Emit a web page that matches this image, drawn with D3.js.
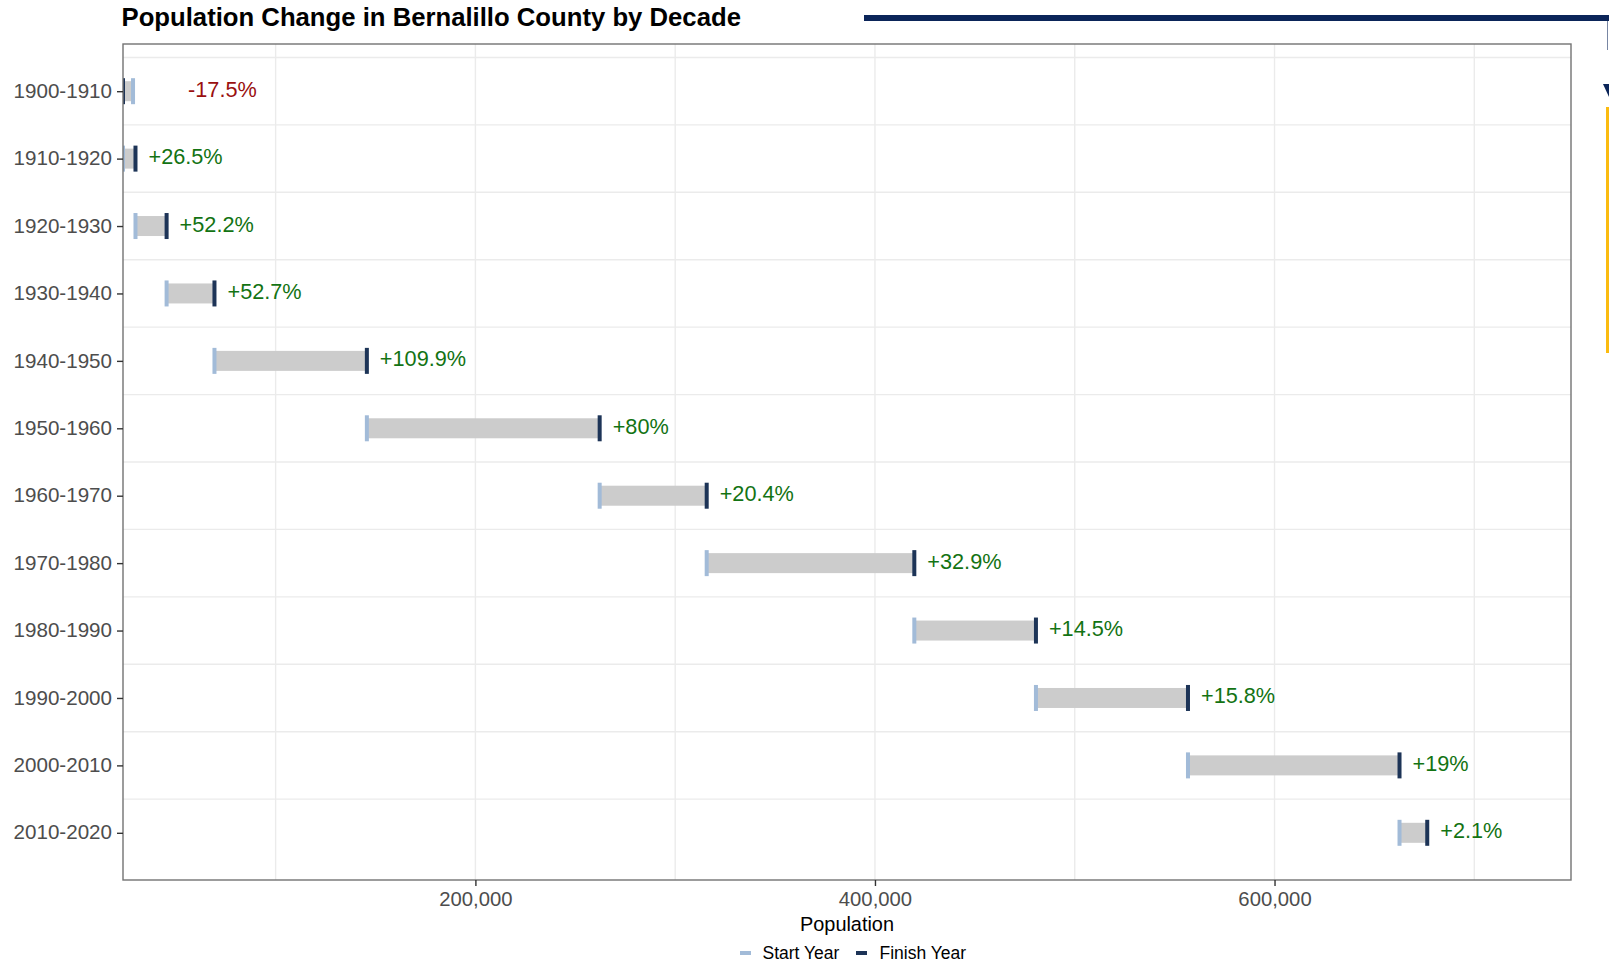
<!DOCTYPE html>
<html>
<head>
<meta charset="utf-8">
<script src="https://cdn.jsdelivr.net/npm/d3@7"></script>
<style>
  html, body { margin: 0; padding: 0; background: #ffffff; }
  svg { display: block; }
  text { font-family: "Liberation Sans", Arial, Helvetica, sans-serif; }
</style>
</head>
<body>
<svg id="chart" width="1609" height="963"></svg>
<script>
// ---------- data ----------
const decades = ["1900-1910","1910-1920","1920-1930","1930-1940","1940-1950","1950-1960",
                 "1960-1970","1970-1980","1980-1990","1990-2000","2000-2010","2010-2020"];
const startPop  = [28630, 23606, 29855, 45430, 69391, 145673, 262199, 315774, 419700, 480577, 556678, 662564];
const finishPop = [23606, 29855, 45430, 69391, 145673, 262199, 315774, 419700, 480577, 556678, 662564, 676444];
const changeLabels = ["-17.5%","+26.5%","+52.2%","+52.7%","+109.9%","+80%","+20.4%","+32.9%","+14.5%","+15.8%","+19%","+2.1%"];
const xTickValues = [200000, 400000, 600000];
const xGridValues = [100000, 200000, 300000, 400000, 500000, 600000, 700000];
const legendLabels = ["Start Year", "Finish Year"];
const titleText = "Population Change in Bernalillo County by Decade";
const xTitle = "Population";

// ---------- layout ----------
const W = 1609, H = 963;
const panel = {left: 123, right: 1571, top: 44, bottom: 880};
const colStart = "#a2bbd8", colFinish = "#1d3457", colBar = "#cccccc";
const colUp = "#137313", colDown = "#9a1010";

const svg = d3.select("#chart");

const x = d3.scaleLinear().domain([23606, 748400]).range([panel.left, panel.right]);
const y = d3.scalePoint().domain(decades).range([panel.top, panel.bottom]).padding(0.7);
const step = y.step();

function addText(g, tx, ty, str, opts) {
  const t = g.append("text").attr("x", tx).attr("y", ty).text(str);
  for (const k in opts) t.attr(k, opts[k]);
  return t;
}

// panel background
svg.append("rect").attr("x", panel.left).attr("y", panel.top)
  .attr("width", panel.right - panel.left).attr("height", panel.bottom - panel.top)
  .attr("fill", "#ffffff");

// grid
const grid = svg.append("g");
grid.selectAll("line.v").data(xGridValues).join("line")
  .attr("x1", d => x(d)).attr("x2", d => x(d))
  .attr("y1", panel.top).attr("y2", panel.bottom)
  .attr("stroke", "#ebebeb").attr("stroke-width", 1.4);
grid.selectAll("line.h").data(decades).join("line")
  .attr("x1", panel.left).attr("x2", panel.right)
  .attr("y1", d => y(d) - step / 2).attr("y2", d => y(d) - step / 2)
  .attr("stroke", "#ebebeb").attr("stroke-width", 1.4);

// clip
svg.append("clipPath").attr("id", "pclip").append("rect")
  .attr("x", panel.left).attr("y", panel.top)
  .attr("width", panel.right - panel.left).attr("height", panel.bottom - panel.top);

const rows = decades.map((d, i) => ({d, s: startPop[i], f: finishPop[i], lab: changeLabels[i]}));
const marks = svg.append("g").attr("clip-path", "url(#pclip)");

const barH = 20, tickH = 26, tickW = 4;
marks.selectAll("rect.bar").data(rows).join("rect")
  .attr("x", r => x(Math.min(r.s, r.f)))
  .attr("width", r => x(Math.max(r.s, r.f)) - x(Math.min(r.s, r.f)))
  .attr("y", r => y(r.d) - barH / 2).attr("height", barH)
  .attr("fill", colBar);
marks.selectAll("rect.st").data(rows).join("rect")
  .attr("x", r => x(r.s) - tickW / 2).attr("width", tickW)
  .attr("y", r => y(r.d) - tickH / 2).attr("height", tickH)
  .attr("fill", colStart);
marks.selectAll("rect.fi").data(rows).join("rect")
  .attr("x", r => x(r.f) - tickW / 2).attr("width", tickW)
  .attr("y", r => y(r.d) - tickH / 2).attr("height", tickH)
  .attr("fill", colFinish);

// change labels
const labG = svg.append("g");
rows.forEach(r => {
  const up = r.f >= r.s;
  const ax = up ? x(r.f) + 13 : x(r.s) + 55;
  addText(labG, ax, y(r.d) + 5.5, r.lab, {"font-size": "21.7px", "fill": up ? colUp : colDown});
});

// panel border
svg.append("rect").attr("x", panel.left).attr("y", panel.top)
  .attr("width", panel.right - panel.left).attr("height", panel.bottom - panel.top)
  .attr("fill", "none").attr("stroke", "#737373").attr("stroke-width", 1.4);

// y axis
const yAxis = svg.append("g").attr("transform", `translate(${panel.left},0)`)
  .call(d3.axisLeft(y).tickSize(6).tickPadding(5));
yAxis.select(".domain").remove();
yAxis.selectAll(".tick line").attr("stroke", "#333333").attr("stroke-width", 1.4);
yAxis.selectAll(".tick text")
  .attr("font-size", "20.6px").attr("fill", "#4d4d4d")
  .attr("font-family", "Liberation Sans, Arial, sans-serif")
  .attr("dy", "0.3em");

// x axis
const xAxis = svg.append("g").attr("transform", `translate(0,${panel.bottom})`)
  .call(d3.axisBottom(x).tickValues(xTickValues).tickFormat(d3.format(",")).tickSize(6));
xAxis.select(".domain").remove();
xAxis.selectAll(".tick line").attr("stroke", "#333333").attr("stroke-width", 1.4);
xAxis.selectAll(".tick text")
  .attr("font-size", "20.3px").attr("fill", "#4d4d4d")
  .attr("font-family", "Liberation Sans, Arial, sans-serif")
  .attr("y", 26).attr("dy", 0);

// axis title
addText(svg, (panel.left + panel.right) / 2, 930.5, xTitle,
  {"font-size": "19.9px", "fill": "#000000", "text-anchor": "middle"});

// title
addText(svg, 121.5, 26, titleText,
  {"font-size": "25.7px", "font-weight": "bold", "fill": "#000000"});

// legend
const legend = svg.append("g");
const legendX = [740, 856];
const legendTextX = [762.5, 879.5];
const legendCols = [colStart, colFinish];
legendLabels.forEach((l, i) => {
  legend.append("rect").attr("x", legendX[i]).attr("y", 951).attr("width", 11).attr("height", 4)
    .attr("fill", legendCols[i]);
  addText(legend, legendTextX[i], 959, l, {"font-size": "17.5px", "fill": "#000000"});
});

// top-right page decoration fragments
const deco = svg.append("g");
deco.append("rect").attr("x", 864).attr("y", 15).attr("width", W - 864).attr("height", 6).attr("fill", "#0b2559");
deco.append("line").attr("x1", 1607.5).attr("x2", 1607.5).attr("y1", 21).attr("y2", 50)
  .attr("stroke", "#7886a3").attr("stroke-width", 1);
deco.append("path").attr("d", "M1603,84 L1609,84 L1609,97 Z").attr("fill", "#0b2559");
deco.append("rect").attr("x", 1606).attr("y", 107).attr("width", 3).attr("height", 246).attr("fill", "#fbbb10");
</script>
</body>
</html>
